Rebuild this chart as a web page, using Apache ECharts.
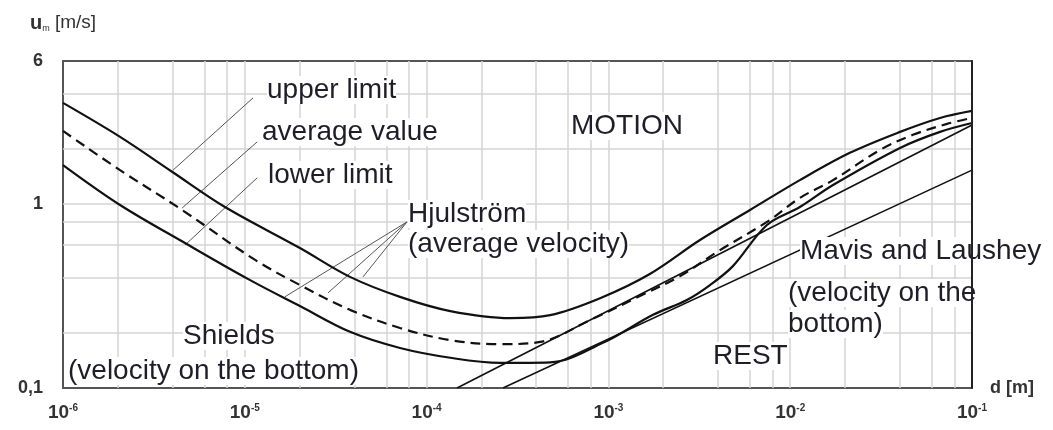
<!DOCTYPE html>
<html>
<head>
<meta charset="utf-8">
<title>Hjulström / Shields / Mavis and Laushey</title>
<script src="https://cdn.jsdelivr.net/npm/echarts@6/dist/echarts.min.js"></script>
<style>
    html, body { margin: 0; padding: 0; background: #fff; }
    #chart { width: 1053px; height: 430px; }
</style>
</head>
<body>
<div id="chart"></div>
<script>
    // d [m] , u [m/s]
    var upperLimit = [[1e-6, 3.55], [2.06e-6, 2.32], [3.98e-6, 1.50], [7.78e-6, 0.964], [2.01e-5, 0.577],
        [3.79e-5, 0.402], [7.14e-5, 0.313], [1.35e-4, 0.262], [2.88e-4, 0.240], [4.78e-4, 0.249],
        [9.0e-4, 0.308], [1.69e-3, 0.417], [3.19e-3, 0.638], [6.01e-3, 0.929], [1.13e-2, 1.35],
        [2.13e-2, 1.90], [4.02e-2, 2.47], [6.67e-2, 2.94], [0.1, 3.21]];
    var averageValue = [[1e-6, 2.50], [2.06e-6, 1.53], [4.52e-6, 0.929], [1.14e-5, 0.497], [2.01e-5, 0.363],
        [3.79e-5, 0.266], [7.14e-5, 0.212], [1.35e-4, 0.182], [2.54e-4, 0.173], [4.21e-4, 0.178],
        [7.93e-4, 0.234], [1.49e-3, 0.316], [2.48e-3, 0.406], [4.11e-3, 0.562], [7.45e-3, 0.800],
        [1.13e-2, 1.08], [1.72e-2, 1.35], [3.12e-2, 1.97], [4.73e-2, 2.38], [7.29e-2, 2.73], [0.1, 2.94]];
    var lowerLimit = [[1e-6, 1.63], [2.06e-6, 0.989], [4.69e-6, 0.614], [1.07e-5, 0.386], [2.01e-5, 0.279],
        [3.79e-5, 0.202], [7.14e-5, 0.165], [1.35e-4, 0.146], [2.54e-4, 0.137], [4.78e-4, 0.138],
        [9.33e-4, 0.176], [1.76e-3, 0.250], [2.70e-3, 0.301], [3.62e-3, 0.363], [4.84e-3, 0.46],
        [7.45e-3, 0.770], [1.13e-2, 0.964], [1.72e-2, 1.27], [4.02e-2, 2.02], [6.67e-2, 2.47], [0.1, 2.76]];
    // Mavis and Laushey (straight in log-log)
    var mavisUpper = [[1.47e-4, 0.1], [0.1, 2.69]];
    var mavisLower = [[2.63e-4, 0.1], [0.1, 1.53]];

    // grid lines: 2,4,6,8 of each decade
    var xGridValues = [2e-6, 4e-6, 6e-6, 8e-6, 1e-5, 2e-5, 4e-5, 6e-5, 8e-5, 1e-4, 2e-4, 4e-4, 6e-4, 8e-4,
        1e-3, 2e-3, 4e-3, 6e-3, 8e-3, 1e-2, 2e-2, 4e-2, 6e-2, 8e-2];
    var yGridValues = [0.2, 0.4, 0.6, 0.8, 1, 2, 4];
    var yTickLabels = {'0.1': '0,1', '1': '1', '6': '6'};

    // leader lines from the notes to the curves
    var leaders = [
        [[1.11e-5, 3.78], [4.03e-6, 1.53]],
        [[1.17e-5, 2.18], [4.52e-6, 0.952]],
        [[1.17e-5, 1.39], [4.69e-6, 0.599]],
        [[7.80e-5, 0.800], [1.66e-5, 0.313]],
        [[7.80e-5, 0.800], [2.87e-5, 0.329]],
        [[7.80e-5, 0.800], [4.47e-5, 0.402]]
    ];

    // notes: text, left, middle-y
    var notes = [
        ['upper limit', 267, 90],
        ['average value', 262, 132],
        ['lower limit', 268, 175],
        ['MOTION', 571, 126],
        ['Hjulström', 408, 214],
        ['(average velocity)', 408, 244],
        ['Shields', 183, 336],
        ['(velocity on the bottom)', 68, 371],
        ['REST', 713, 356],
        ['Mavis and Laushey', 800, 251],
        ['(velocity on the', 788, 293],
        ['bottom)', 788, 324]
    ];

    var FONT = '"Liberation Sans", Arial, sans-serif';
    var chart = echarts.init(document.getElementById('chart'));

    var gridCoords = [];
    xGridValues.forEach(function (v) { gridCoords.push({coords: [[v, 0.1], [v, 6]]}); });
    yGridValues.forEach(function (v) { gridCoords.push({coords: [[1e-6, v], [0.1, v]]}); });

    function curve(name, data, width, dashed) {
        return {
            name: name,
            type: 'line',
            data: data,
            symbol: 'none',
            smooth: 0.35,
            z: 3,
            lineStyle: {color: '#111', width: width, type: dashed ? [10, 6] : 'solid'}
        };
    }

    chart.setOption({
        animation: false,
        backgroundColor: '#fff',
        grid: {left: 63, right: 81, top: 61, bottom: 42},
        xAxis: [
            {
                type: 'log', logBase: 10, min: 1e-6, max: 0.1,
                axisLine: {onZero: false, lineStyle: {color: '#555', width: 2}},
                axisTick: {show: false},
                splitLine: {show: false},
                axisLabel: {
                    margin: 15,
                    formatter: function (v) {
                        return '{b|10}{s|' + Math.round(Math.log10(v)) + '}';
                    },
                    rich: {
                        b: {fontSize: 19, fontWeight: 'bold', color: '#333', fontFamily: FONT},
                        s: {fontSize: 10, fontWeight: 'bold', color: '#333', fontFamily: FONT,
                            verticalAlign: 'top', lineHeight: 10}
                    }
                },
                name: 'd [m]',
                nameLocation: 'end',
                nameGap: 18,
                nameTextStyle: {fontSize: 18, fontWeight: 'bold', color: '#333', fontFamily: FONT,
                    padding: [0, 0, 16, 0]}
            },
            {
                type: 'log', logBase: 10, min: 1e-6, max: 0.1, position: 'top',
                axisLine: {onZero: false, lineStyle: {color: '#555', width: 2}},
                axisTick: {show: false}, axisLabel: {show: false}, splitLine: {show: false}
            }
        ],
        yAxis: [
            {
                type: 'log', logBase: 10, min: 0.1, max: 6,
                axisLine: {onZero: false, lineStyle: {color: '#555', width: 2}},
                axisTick: {show: false},
                splitLine: {show: false},
                axisLabel: {
                    margin: 20, fontSize: 18, fontWeight: 'bold', color: '#333', fontFamily: FONT,
                    formatter: function (v) {
                        var key = String(Math.round(v * 10) / 10);
                        return yTickLabels[key] || '';
                    }
                },
                name: '{u|u}{m|m}{t| [m/s]}',
                nameLocation: 'end',
                nameGap: 28,
                nameTextStyle: {
                    align: 'center',
                    rich: {
                        u: {fontSize: 20, fontWeight: 'bold', color: '#333', fontFamily: FONT},
                        m: {fontSize: 9, color: '#333', fontFamily: FONT, verticalAlign: 'bottom', lineHeight: 9},
                        t: {fontSize: 19, color: '#333', fontFamily: FONT}
                    }
                }
            },
            {
                type: 'log', logBase: 10, min: 0.1, max: 6, position: 'right', z: 60,
                axisLine: {onZero: false, lineStyle: {color: '#222', width: 2}},
                axisTick: {show: false}, axisLabel: {show: false}, splitLine: {show: false}
            }
        ],
        series: [
            {
                type: 'lines',
                coordinateSystem: 'cartesian2d',
                silent: true,
                z: 1,
                data: gridCoords,
                lineStyle: {color: '#d4d4d4', width: 1.5, opacity: 1}
            },
            curve('upper limit', upperLimit, 2.2, false),
            curve('average value', averageValue, 2.2, true),
            curve('lower limit', lowerLimit, 2.2, false),
            {
                type: 'line', data: mavisUpper, symbol: 'none', z: 3,
                lineStyle: {color: '#111', width: 1.6}
            },
            {
                type: 'line', data: mavisLower, symbol: 'none', z: 3,
                lineStyle: {color: '#111', width: 1.6}
            },
            {
                type: 'lines',
                coordinateSystem: 'cartesian2d',
                silent: true,
                z: 2,
                data: leaders.map(function (l) { return {coords: l}; }),
                lineStyle: {color: '#555', width: 1, opacity: 1}
            }
        ],
        graphic: notes.map(function (n) {
            return {
                type: 'text',
                x: n[1],
                y: n[2],
                z: 50,
                silent: true,
                style: {
                    text: n[0],
                    font: '28px ' + FONT,
                    fill: '#1e1e28',
                    backgroundColor: '#fff',
                    verticalAlign: 'middle'
                }
            };
        })
    });
</script>
</body>
</html>
